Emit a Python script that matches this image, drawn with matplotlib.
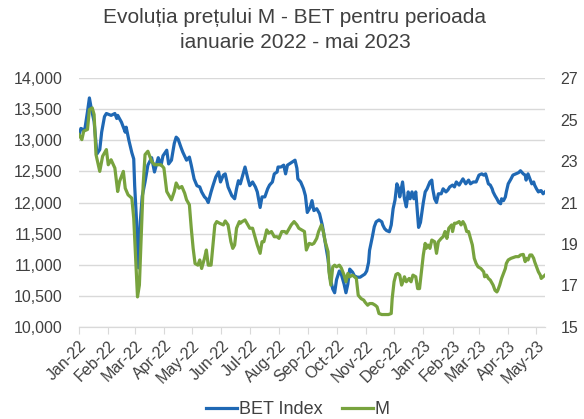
import matplotlib.pyplot as plt
import matplotlib.dates as mdates
import pandas as pd

plt.rcParams['font.family'] = ['Liberation Sans', 'DejaVu Sans']

title = "Evoluția prețului M - BET pentru perioada\nianuarie 2022 - mai 2023"

bet_dates = [
    "2022-01-03", "2022-01-05", "2022-01-09", "2022-01-12", "2022-01-14", "2022-01-16",
    "2022-01-19", "2022-01-22", "2022-01-25", "2022-01-27", "2022-01-30", "2022-02-01",
    "2022-02-06", "2022-02-10", "2022-02-12", "2022-02-13", "2022-02-17", "2022-02-21",
    "2022-02-22", "2022-02-25", "2022-02-28", "2022-03-02", "2022-03-03", "2022-03-05",
    "2022-03-07", "2022-03-09", "2022-03-11", "2022-03-14", "2022-03-17", "2022-03-21",
    "2022-03-24", "2022-03-28", "2022-03-31", "2022-04-02", "2022-04-06", "2022-04-08",
    "2022-04-11", "2022-04-14", "2022-04-16", "2022-04-18", "2022-04-21", "2022-04-23",
    "2022-04-27", "2022-04-30", "2022-05-02", "2022-05-05", "2022-05-08", "2022-05-11",
    "2022-05-13", "2022-05-16", "2022-05-18", "2022-05-20", "2022-05-23", "2022-05-25",
    "2022-05-28", "2022-05-31", "2022-06-02", "2022-06-05", "2022-06-07", "2022-06-10",
    "2022-06-14", "2022-06-17", "2022-06-19", "2022-06-21", "2022-06-23", "2022-06-25",
    "2022-06-28", "2022-07-01", "2022-07-03", "2022-07-06", "2022-07-09", "2022-07-11",
    "2022-07-14", "2022-07-16", "2022-07-19", "2022-07-22", "2022-07-24", "2022-07-27",
    "2022-07-29", "2022-08-01", "2022-08-02", "2022-08-05", "2022-08-08", "2022-08-10",
    "2022-08-12", "2022-08-15", "2022-08-17", "2022-08-20", "2022-08-22", "2022-08-23",
    "2022-08-26", "2022-08-29", "2022-08-31", "2022-09-02", "2022-09-05", "2022-09-07",
    "2022-09-09", "2022-09-12", "2022-09-15", "2022-09-18", "2022-09-21", "2022-09-24",
    "2022-09-26", "2022-09-29", "2022-10-01", "2022-10-03", "2022-10-06", "2022-10-08",
    "2022-10-11", "2022-10-13", "2022-10-15", "2022-10-17", "2022-10-20", "2022-10-22",
    "2022-10-25", "2022-10-28", "2022-10-30", "2022-11-02", "2022-11-04", "2022-11-06",
    "2022-11-07", "2022-11-10", "2022-11-12", "2022-11-14", "2022-11-17", "2022-11-20",
    "2022-11-21", "2022-11-23", "2022-11-25", "2022-11-28", "2022-11-30", "2022-12-02",
    "2022-12-04", "2022-12-06", "2022-12-08", "2022-12-09", "2022-12-12", "2022-12-14",
    "2022-12-16", "2022-12-18", "2022-12-20", "2022-12-22", "2022-12-24", "2022-12-26",
    "2022-12-28", "2022-12-29", "2022-12-31", "2023-01-03", "2023-01-05", "2023-01-07",
    "2023-01-10", "2023-01-12", "2023-01-13", "2023-01-15", "2023-01-17", "2023-01-19",
    "2023-01-22", "2023-01-24", "2023-01-27", "2023-01-29", "2023-01-31", "2023-02-03",
    "2023-02-05", "2023-02-07", "2023-02-10", "2023-02-12", "2023-02-14", "2023-02-17",
    "2023-02-20", "2023-02-22", "2023-02-25", "2023-02-28", "2023-03-03", "2023-03-06",
    "2023-03-08", "2023-03-10", "2023-03-11", "2023-03-13", "2023-03-15", "2023-03-17",
    "2023-03-18", "2023-03-20", "2023-03-22", "2023-03-24", "2023-03-26", "2023-03-27",
    "2023-03-29", "2023-03-31", "2023-04-01", "2023-04-03", "2023-04-06", "2023-04-08",
    "2023-04-11", "2023-04-14", "2023-04-16", "2023-04-19", "2023-04-21", "2023-04-22",
    "2023-04-24", "2023-04-26", "2023-04-28", "2023-04-30", "2023-05-01", "2023-05-03",
    "2023-05-05", "2023-05-07", "2023-05-08", "2023-05-10", "2023-05-12",
]
bet_values = [
    13080, 13190, 13160, 13460, 13680, 13510,
    13300, 12780, 12850, 13130, 13380, 13430,
    13400, 13430, 13350, 13400, 13290, 13130,
    13210, 12990, 12800, 12700, 12270, 11700,
    10950, 11700, 12100, 12330, 12600, 12720,
    12490, 12720, 12600, 12750, 12840, 12620,
    12680, 12950, 13050, 13020, 12890, 12810,
    12680, 12730, 12600, 12380, 12270, 12250,
    12170, 12090, 12060, 12000, 12170, 12270,
    12410, 12490, 12330, 12440, 12460, 12250,
    12110, 12060, 12220, 12350, 12300, 12410,
    12570, 12380, 12270, 12330, 12250, 12170,
    11920, 12090, 12090, 12220, 12280, 12330,
    12460, 12490, 12570, 12570, 12600, 12460,
    12600, 12630, 12650, 12680, 12550, 12380,
    12330, 12220, 12110, 11840, 11920, 12030,
    11870, 11900, 11820, 11630, 11360, 11090,
    10800, 10610, 10550, 10760, 10900, 10850,
    10690, 10550, 10690, 10930, 10880, 10820,
    10800, 10800, 10820, 10850, 10900, 11040,
    11230, 11450, 11610, 11690, 11720, 11690,
    11640, 11580, 11550, 11530, 11640, 11900,
    12040, 12300, 12220, 12090, 12330, 12060,
    11930, 12170, 12060, 12170, 12060, 12170,
    11790, 11600, 11680, 12000, 12170, 12220,
    12330, 12360, 12220, 12060, 12000, 12140,
    12140, 12220, 12170, 12200, 12250, 12280,
    12250, 12330, 12280, 12330, 12380, 12300,
    12360, 12300, 12330, 12330, 12440, 12460,
    12440, 12460, 12410, 12300, 12280, 12220,
    12170, 12110, 12060, 12000, 11980, 12060,
    12030, 12090, 12170, 12300, 12380, 12440,
    12460, 12480, 12510, 12460, 12440, 12360,
    12460, 12380, 12300, 12330, 12280, 12220,
    12170, 12190, 12190, 12140, 12170,
]

m_dates = [
    "2022-01-03", "2022-01-06", "2022-01-08", "2022-01-12", "2022-01-14", "2022-01-17",
    "2022-01-19", "2022-01-20", "2022-01-21", "2022-01-25", "2022-01-28", "2022-02-01",
    "2022-02-03", "2022-02-06", "2022-02-10", "2022-02-13", "2022-02-15", "2022-02-19",
    "2022-02-21", "2022-02-24", "2022-02-28", "2022-03-02", "2022-03-04", "2022-03-06",
    "2022-03-08", "2022-03-10", "2022-03-12", "2022-03-14", "2022-03-17", "2022-03-21",
    "2022-03-24", "2022-03-28", "2022-03-31", "2022-04-03", "2022-04-06", "2022-04-08",
    "2022-04-11", "2022-04-14", "2022-04-16", "2022-04-19", "2022-04-22", "2022-04-25",
    "2022-04-27", "2022-04-30", "2022-05-02", "2022-05-04", "2022-05-06", "2022-05-09",
    "2022-05-11", "2022-05-13", "2022-05-16", "2022-05-18", "2022-05-20", "2022-05-23",
    "2022-05-25", "2022-05-27", "2022-05-29", "2022-06-01", "2022-06-05", "2022-06-07",
    "2022-06-10", "2022-06-13", "2022-06-15", "2022-06-17", "2022-06-19", "2022-06-22",
    "2022-06-23", "2022-06-25", "2022-06-28", "2022-07-01", "2022-07-03", "2022-07-06",
    "2022-07-09", "2022-07-11", "2022-07-14", "2022-07-16", "2022-07-18", "2022-07-21",
    "2022-07-23", "2022-07-26", "2022-07-29", "2022-08-01", "2022-08-03", "2022-08-06",
    "2022-08-09", "2022-08-11", "2022-08-14", "2022-08-16", "2022-08-19", "2022-08-22",
    "2022-08-24", "2022-08-27", "2022-08-30", "2022-09-01", "2022-09-04", "2022-09-07",
    "2022-09-09", "2022-09-12", "2022-09-14", "2022-09-17", "2022-09-19", "2022-09-21",
    "2022-09-24", "2022-09-25", "2022-09-27", "2022-09-29", "2022-10-01", "2022-10-03",
    "2022-10-06", "2022-10-08", "2022-10-11", "2022-10-13", "2022-10-15", "2022-10-17",
    "2022-10-20", "2022-10-22", "2022-10-24", "2022-10-26", "2022-10-29", "2022-11-01",
    "2022-11-02", "2022-11-05", "2022-11-07", "2022-11-10", "2022-11-13", "2022-11-15",
    "2022-11-17", "2022-11-20", "2022-11-23", "2022-11-27", "2022-11-30", "2022-12-01",
    "2022-12-03", "2022-12-05", "2022-12-07", "2022-12-09", "2022-12-11", "2022-12-13",
    "2022-12-14", "2022-12-16", "2022-12-19", "2022-12-21", "2022-12-23", "2022-12-26",
    "2022-12-28", "2022-12-30", "2023-01-01", "2023-01-03", "2023-01-05", "2023-01-06",
    "2023-01-08", "2023-01-10", "2023-01-12", "2023-01-15", "2023-01-17", "2023-01-19",
    "2023-01-22", "2023-01-24", "2023-01-26", "2023-01-28", "2023-01-30", "2023-02-02",
    "2023-02-03", "2023-02-05", "2023-02-07", "2023-02-10", "2023-02-12", "2023-02-14",
    "2023-02-16", "2023-02-18", "2023-02-20", "2023-02-22", "2023-02-24", "2023-02-26",
    "2023-02-28", "2023-03-02", "2023-03-05", "2023-03-08", "2023-03-09", "2023-03-11",
    "2023-03-13", "2023-03-15", "2023-03-16", "2023-03-18", "2023-03-20", "2023-03-22",
    "2023-03-23", "2023-03-25", "2023-03-27", "2023-03-29", "2023-03-31", "2023-04-01",
    "2023-04-03", "2023-04-06", "2023-04-08", "2023-04-11", "2023-04-14", "2023-04-16",
    "2023-04-19", "2023-04-21", "2023-04-22", "2023-04-24", "2023-04-26", "2023-04-28",
    "2023-04-30", "2023-05-01", "2023-05-03", "2023-05-05", "2023-05-07", "2023-05-08",
    "2023-05-10", "2023-05-12",
]
m_values = [
    24.27, 24.03, 24.44, 24.52, 25.48, 25.56,
    25.24, 24.27, 23.31, 22.50, 23.23, 23.55,
    22.82, 23.06, 22.66, 21.53, 22.02, 22.50,
    21.69, 21.37, 21.21, 20.24, 18.31, 16.45,
    17.02, 19.44, 21.85, 23.31, 23.47, 22.98,
    22.82, 22.82, 22.82, 22.66, 21.53, 21.37,
    21.13, 21.53, 21.94, 21.69, 21.77, 21.45,
    21.13, 20.89, 19.76, 18.79, 18.06, 17.98,
    18.23, 17.82, 18.31, 18.71, 17.98, 17.98,
    18.95, 19.92, 20.08, 20.00, 19.92, 20.11,
    19.92, 19.11, 18.79, 18.95, 19.76, 20.08,
    20.00, 20.08, 20.16, 19.92, 19.76, 19.76,
    19.27, 18.95, 18.55, 19.11, 19.11, 19.68,
    19.52, 19.60, 19.35, 19.35, 19.27, 19.60,
    19.60, 19.52, 19.76, 19.92, 20.08, 19.92,
    19.76, 19.68, 19.60, 18.71, 19.03, 18.98,
    19.03, 19.27, 19.60, 19.92, 19.60, 19.11,
    18.63, 17.66, 17.02, 17.90, 17.98, 17.90,
    17.98, 17.85, 17.50, 17.18, 17.58, 17.42,
    17.50, 17.42, 17.34, 16.53, 16.37, 16.29,
    16.21, 16.05, 16.13, 16.13, 16.05, 15.97,
    15.65, 15.60, 15.60, 15.60, 15.65, 16.37,
    17.18, 17.53, 17.58, 17.50, 17.02, 17.26,
    17.42, 17.18, 17.34, 17.18, 17.50, 17.42,
    16.85, 16.85, 17.66, 18.47, 19.03, 18.79,
    18.95, 18.79, 19.19, 19.11, 18.55, 19.11,
    19.27, 19.35, 19.60, 19.27, 19.76, 19.92,
    19.60, 20.00, 20.00, 20.08, 19.92, 20.08,
    19.92, 19.60, 19.60, 19.27, 18.95, 18.31,
    18.06, 17.90, 17.82, 17.66, 17.42, 17.50,
    17.34, 17.26, 17.18, 17.02, 16.77, 16.69,
    16.77, 17.02, 17.34, 17.58, 17.82, 18.06,
    18.23, 18.31, 18.34, 18.39, 18.39, 18.47,
    18.50, 18.15, 18.31, 18.23, 18.47, 18.47,
    18.31, 18.15, 17.90, 17.66, 17.50, 17.34,
    17.42, 17.50,
]

left_ticks = list(range(10000, 14001, 500))
right_ticks = list(range(15, 28, 2))

txt = '#404040'
blue = '#1F68B4'
green = '#78A33E'

fig = plt.figure(figsize=(5.84, 4.19), dpi=100)
ax = fig.add_axes([0.1353, 0.2196, 0.7979, 0.5942])
ax2 = ax.twinx()

bet_x = pd.to_datetime(bet_dates)
m_x = pd.to_datetime(m_dates)
l1, = ax.plot(bet_x, bet_values, color=blue, lw=2.3, label='BET Index',
              solid_joinstyle='round')
l2, = ax2.plot(m_x, m_values, color=green, lw=2.3, label='M',
               solid_joinstyle='round')

ax.set_ylim(10000, 14000)
ax.set_yticks(left_ticks)
ax.set_yticklabels([f"{v:,}" for v in left_ticks])
ax2.set_ylim(15, 27)
ax2.set_yticks(right_ticks)

ax.set_xlim(pd.Timestamp("2022-01-03"), pd.Timestamp("2023-05-12"))
ax.xaxis.set_major_locator(mdates.MonthLocator(bymonthday=3))
ax.xaxis.set_major_formatter(mdates.DateFormatter('%b-%y'))
for lab in ax.get_xticklabels():
    lab.set_rotation(45)
    lab.set_ha('right')
    lab.set_rotation_mode('anchor')

ax.grid(axis='y', color='#D9D9D9', lw=1)
ax.set_axisbelow(True)
for a in (ax, ax2):
    for s in ('top', 'left', 'right'):
        a.spines[s].set_visible(False)
    a.spines['bottom'].set_color('#D9D9D9')
ax.tick_params(axis='x', colors='#D9D9D9', labelcolor=txt, labelsize=11.5,
               length=5, direction='out', pad=3)
ax.tick_params(axis='y', length=0, labelsize=11.5, labelcolor=txt, pad=12)
ax2.tick_params(axis='y', length=0, labelsize=11.5, labelcolor=txt, pad=11)

fig.text(0.505, 0.982, title, ha='center', va='top', fontsize=15,
         color=txt, linespacing=1.45)

fig.legend(handles=[l1, l2], loc='center', bbox_to_anchor=(0.51, 0.022),
           ncol=2, frameon=False, fontsize=13, handlelength=1.7,
           columnspacing=1.1, handletextpad=0.1, labelcolor=txt,
           borderpad=0.1)

fig.savefig('out.png', dpi=100)
